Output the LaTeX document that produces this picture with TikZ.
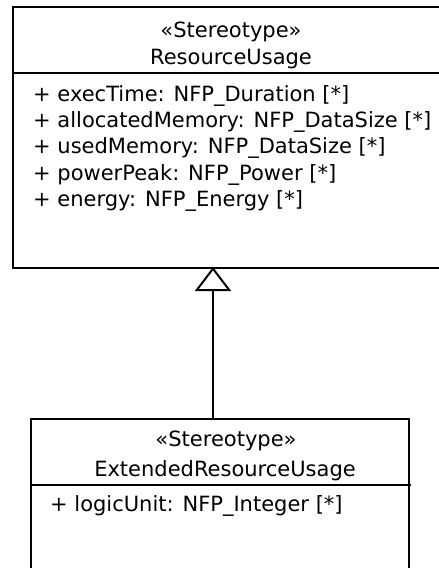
\documentclass[tikz,border=0pt]{standalone}
\usepackage{fontspec}
\setmainfont{DejaVu Sans}
\usetikzlibrary{arrows.meta,positioning}

\begin{document}
\begin{tikzpicture}[x=1pt,y=-1pt,
  classbox/.style={draw,line width=2pt,inner sep=0pt,anchor=north west},
  umltext/.style={font=\fontsize{21}{25}\selectfont,inner sep=0pt},
  attr/.style={umltext,anchor=west},
  generalization/.style={line width=2pt,-{Triangle[open,length=24pt,width=36pt]}}]
\path[use as bounding box] (0,0) rectangle (439,568);
\clip (0,0) rectangle (439,568);
% ResourceUsage class
\node[classbox,minimum width=436pt,minimum height=261pt] (resusage) at (12,6) {};
\draw[line width=2pt] (resusage.north west) ++(0,67) -- ++(436,0);
\node[umltext] (resstereo) at (231,32) {«Stereotype»};
\node[umltext] (resname) at (231,59) {ResourceUsage};
\foreach \a [count=\i] in {{+ execTime: NFP\_Duration [*]},
    {+ allocatedMemory: NFP\_DataSize [*]},
    {+ usedMemory: NFP\_DataSize [*]},
    {+ powerPeak: NFP\_Power [*]},
    {+ energy: NFP\_Energy [*]}}
  \node[attr] (resattr\i) at (33,{96+26.2*(\i-1)}) {\a};
% ExtendedResourceUsage class
\node[classbox,minimum width=378pt,minimum height=170pt] (extusage) at (30,418) {};
\draw[line width=2pt] (extusage.north west) ++(0,67) -- ++(381,0);
\node[umltext] (extstereo) at (226,441) {«Stereotype»};
\node[umltext] (extname) at (225,471) {ExtendedResourceUsage};
\node[attr] (extattr1) at (50,506) {+ logicUnit: NFP\_Integer [*]};
% generalization
\coordinate (apex) at (213,267);
\draw[generalization] (extusage.north -| apex) -- (apex);
\end{tikzpicture}
\end{document}
